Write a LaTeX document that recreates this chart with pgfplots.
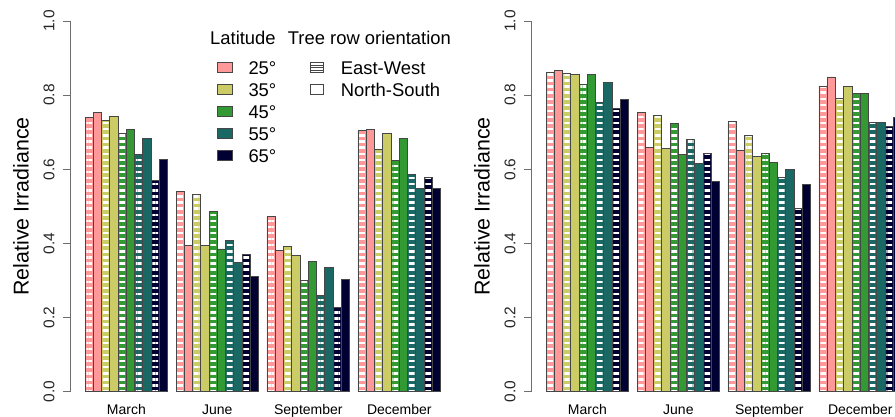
\documentclass[border=0pt]{standalone}
\usepackage{pgfplots}
\usepackage{pgfplotstable}
\pgfplotsset{compat=1.18}
\usepackage{fontspec}
\setmainfont{Liberation Sans}
\usetikzlibrary{patterns.meta}
\definecolor{c25}{RGB}{255,153,153}
\definecolor{c35}{RGB}{204,204,102}
\definecolor{c45}{RGB}{51,153,51}
\definecolor{c55}{RGB}{26,104,100}
\definecolor{c65}{RGB}{0,0,51}
\definecolor{bord}{RGB}{70,70,70}
\definecolor{axgray}{RGB}{110,110,110}

% g = month group (0 March, 1 June, 2 September, 3 December); e = East-West, n = North-South
\pgfplotstableread{
g e25 n25 e35 n35 e45 n45 e55 n55 e65 n65
0 0.740 0.753 0.731 0.742 0.696 0.708 0.639 0.684 0.570 0.627
1 0.539 0.394 0.531 0.394 0.485 0.385 0.409 0.349 0.371 0.310
2 0.472 0.380 0.391 0.368 0.299 0.351 0.259 0.335 0.228 0.303
3 0.704 0.707 0.654 0.697 0.624 0.682 0.586 0.549 0.578 0.548
}\lefttab
\pgfplotstableread{
g e25 n25 e35 n35 e45 n45 e55 n55 e65 n65
0 0.861 0.867 0.858 0.856 0.830 0.856 0.781 0.835 0.764 0.789
1 0.754 0.660 0.746 0.655 0.723 0.641 0.680 0.615 0.643 0.566
2 0.728 0.650 0.690 0.634 0.643 0.618 0.577 0.599 0.494 0.560
3 0.824 0.849 0.791 0.824 0.805 0.805 0.725 0.725 0.715 0.739
}\righttab

\pgfplotsset{
  panel/.style={
    scale only axis, width=384.1pt, height=370.7pt, anchor=south west,
    xmin=-0.72, xmax=45.72, ymin=0, ymax=1,
    axis x line=bottom, axis y line=left,
    x axis line style={draw=none},
    y axis line style={draw=axgray, line width=0.9pt, -},
    xtick={6,17,28,39}, xticklabels={March,June,September,December},
    xtick style={draw=none},
    xticklabel style={font=\fontsize{14}{14}\selectfont, anchor=base, inner sep=0pt, yshift=-14.6pt},
    ytick={0,0.2,0.4,0.6,0.8,1},
    ytick style={draw=axgray, line width=0.9pt},
    tick align=outside, major tick length=8pt,
    yticklabel style={xshift=-8pt, rotate=90, anchor=south, inner sep=0pt, font=\fontsize{15.5}{15.5}\selectfont, text=black!85,
      /pgf/number format/fixed, /pgf/number format/fixed zerofill, /pgf/number format/precision=1,
      /pgf/number format/assume math mode=true},
    ylabel={Relative Irradiance},
    every axis y label/.style={at={(axis description cs:-0.130,0.5)}, rotate=90, anchor=center,
      font=\fontsize{21.4}{21.4}\selectfont},
    clip=false,
  },
  nsb/.style={ybar, bar width=1, fill=#1, draw=bord, line width=0.9pt},
  ewfill/.style={ybar, bar width=1, fill=#1, draw=none},
  ewpat/.style={ybar, bar width=0.7, draw=none, pattern={Lines[angle=0,distance=6.1pt,line width=2.4pt]}, pattern color=white},
  ewbord/.style={ybar, bar width=1, fill=none, draw=bord, line width=0.9pt},
}
\newcommand{\ewbar}[4]{%
  \addplot[ewfill=#2] table[x expr=\thisrow{g}*11+#4, y=#3]{#1};
  \addplot[ewpat] table[x expr=\thisrow{g}*11+#4, y=#3]{#1};
  \addplot[ewbord] table[x expr=\thisrow{g}*11+#4, y=#3]{#1};
}
\newcommand{\nsbar}[4]{%
  \addplot[nsb=#2] table[x expr=\thisrow{g}*11+#4, y=#3]{#1};
}
\newcommand{\allbars}[1]{%
  \ewbar{#1}{c25}{e25}{1.5}\nsbar{#1}{c25}{n25}{2.5}%
  \ewbar{#1}{c35}{e35}{3.5}\nsbar{#1}{c35}{n35}{4.5}%
  \ewbar{#1}{c45}{e45}{5.5}\nsbar{#1}{c45}{n45}{6.5}%
  \ewbar{#1}{c55}{e55}{7.5}\nsbar{#1}{c55}{n55}{8.5}%
  \ewbar{#1}{c65}{e65}{9.5}\nsbar{#1}{c65}{n65}{10.5}%
}

\begin{document}
\begin{tikzpicture}[x=1pt,y=1pt]
\useasboundingbox (0,0) rectangle (895,416);
\clip (0,0) rectangle (895,416);
\fill[white] (0,0) rectangle (895,416);

\begin{axis}[panel, at={(70.8pt,24.3pt)}]
\allbars{\lefttab}
\end{axis}

\begin{axis}[panel, at={(531.8pt,24.3pt)}]
\allbars{\righttab}
\end{axis}

% legend
\begin{scope}[font=\fontsize{18.4}{18.4}\selectfont]
\node[anchor=base west, inner sep=0pt] at (210,371) {Latitude};
\node[anchor=base west, inner sep=0pt] at (287.7,371) {Tree row orientation};
\foreach \c/\t [count=\i from 0] in {c25/25°,c35/35°,c45/45°,c55/55°,c65/65°}{
  \pgfmathsetmacro{\yc}{348.5-22*\i}
  \draw[bord, line width=0.8pt, fill=\c] (217.3,\yc-5) rectangle (232.3,\yc+5);
  \node[anchor=base west, inner sep=0pt] at (248.3,\yc-6.6) {\t};
}
\draw[bord, line width=0.8pt, fill=white] (310,343.5) rectangle (323,353.5);
\foreach \yy in {346,348.5,351} \draw[bord, line width=0.6pt] (310,\yy) -- (323,\yy);
\node[anchor=base west, inner sep=0pt] at (340.7,341.9) {East-West};
\draw[bord, line width=0.8pt, fill=white] (310,321.5) rectangle (323,331.5);
\node[anchor=base west, inner sep=0pt] at (340.7,319.9) {North-South};
\end{scope}
\end{tikzpicture}
\end{document}
